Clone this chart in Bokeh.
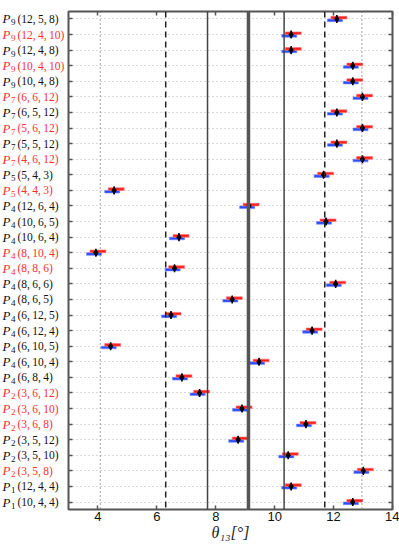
from bokeh.plotting import figure
from bokeh.layouts import row
from bokeh.models import (Range1d, LinearAxis, FixedTicker, Span, ColumnDataSource,
                          CustomLabelingPolicy)
from bokeh.transform import dodge
from bokeh.core.properties import value, field
from bokeh.embed import file_html
from bokeh.resources import INLINE

# ---- data (top row first) ----
model_sub = ["9", "9", "9", "9", "9", "7", "7", "7", "7", "7", "5", "5",
             "4", "4", "4", "4", "4", "4", "4", "4", "4", "4", "4", "4",
             "2", "2", "2", "2", "2", "2", "1", "1"]
model_args = ["12, 5, 8", "12, 4, 10", "12, 4, 8", "10, 4, 10", "10, 4, 8",
              "6, 6, 12", "6, 5, 12", "5, 6, 12", "5, 5, 12", "4, 6, 12",
              "5, 4, 3", "4, 4, 3", "12, 6, 4", "10, 6, 5", "10, 6, 4",
              "8, 10, 4", "8, 8, 6", "8, 6, 6", "8, 6, 5", "6, 12, 5",
              "6, 12, 4", "6, 10, 5", "6, 10, 4", "6, 8, 4", "3, 6, 12",
              "3, 6, 10", "3, 6, 8", "3, 5, 12", "3, 5, 10", "3, 5, 8",
              "12, 4, 4", "10, 4, 4"]
highlight = [0, 1, 0, 1, 0, 1, 0, 1, 0, 1, 0, 1, 0, 0, 0, 1,
             1, 0, 0, 0, 0, 0, 0, 0, 1, 1, 1, 0, 0, 1, 0, 0]
theta = [12.11, 10.56, 10.56, 12.65, 12.65, 12.98, 12.11, 12.98, 12.11, 12.98,
         11.66, 4.55, 9.13, 11.74, 6.75, 3.93, 6.60, 12.07, 8.56, 6.48,
         11.27, 4.43, 9.47, 6.85, 7.45, 8.89, 11.06, 8.76, 10.46, 13.01,
         10.56, 12.65]
red_lo = [11.91, 10.36, 10.36, 12.45, 12.45, 12.78, 11.91, 12.78, 11.91, 12.78,
          11.46, 4.35, 8.93, 11.54, 6.55, 3.73, 6.40, 11.87, 8.36, 6.28,
          11.07, 4.23, 9.27, 6.65, 7.25, 8.69, 10.86, 8.56, 10.26, 12.81,
          10.36, 12.45]
red_hi = [12.45, 10.90, 10.90, 12.99, 12.99, 13.32, 12.45, 13.32, 12.45, 13.32,
          12.00, 4.89, 9.47, 12.08, 7.09, 4.27, 6.94, 12.41, 8.90, 6.82,
          11.61, 4.77, 9.81, 7.19, 7.79, 9.23, 11.40, 9.10, 10.80, 13.35,
          10.90, 12.99]
blue_lo = [11.79, 10.24, 10.24, 12.33, 12.33, 12.66, 11.79, 12.66, 11.79, 12.66,
           11.34, 4.23, 8.81, 11.42, 6.43, 3.61, 6.28, 11.75, 8.24, 6.16,
           10.95, 4.11, 9.15, 6.53, 7.13, 8.57, 10.74, 8.44, 10.14, 12.69,
           10.24, 12.33]
blue_hi = [12.30, 10.75, 10.75, 12.84, 12.84, 13.17, 12.30, 13.17, 12.30, 13.17,
           11.85, 4.74, 9.32, 11.93, 6.94, 4.12, 6.79, 12.26, 8.75, 6.67,
           11.46, 4.62, 9.66, 7.04, 7.64, 9.08, 11.25, 8.95, 10.65, 13.20,
           10.75, 12.84]

ref_lines = [4.08, 6.30, 7.72, 9.11, 10.32, 11.70, 12.96]
ref_kind = ["dotted", "dashed", "solid", "thick", "solid", "dashed", "dotted"]
x_ticks = [4, 6, 8, 10, 12, 14]
x_min, x_max = 3, 14

n = len(theta)
ypos = [n - 1 - i for i in range(n)]
colors = ["#ff2f2f" if h else "#111111" for h in highlight]

src = ColumnDataSource(dict(
    y=ypos, theta=theta, red_lo=red_lo, red_hi=red_hi, blue_lo=blue_lo, blue_hi=blue_hi,
    P=["P"] * n, sub=model_sub,
    args=["(" + a.replace(", ", ",\u2009") + ")" for a in model_args],
    color=colors,
))

H = 555
TOP, BOTTOM = 11, 46
LABEL_W = 66
yr = Range1d(-0.48, n - 1 + 0.48)

# ---- main panel ----
p = figure(width=399 - LABEL_W, height=H, x_range=Range1d(x_min, x_max), y_range=yr,
           output_backend="svg", toolbar_location=None,
           min_border_left=2, min_border_right=7, min_border_top=TOP, min_border_bottom=BOTTOM)
p.background_fill_color = "white"
p.border_fill_color = "white"
p.outline_line_color = "#555555"
p.outline_line_width = 2

no_labels = CustomLabelingPolicy(code="""
try { for (const i of Array.from(indices)) { indices.unset(i) } } catch (e) {}
return indices
""")

p.xaxis.ticker = FixedTicker(ticks=x_ticks)
p.yaxis.ticker = FixedTicker(ticks=ypos)
for ax in (p.xaxis[0], p.yaxis[0]):
    ax.axis_line_color = None
    ax.major_tick_in = 4
    ax.major_tick_out = 0
    ax.minor_tick_line_color = None
    ax.major_tick_line_color = "#555555"
    ax.major_tick_line_width = 1.5
p.yaxis.major_label_text_font_size = "0px"
p.yaxis.major_label_standoff = 0
p.yaxis.major_label_policy = no_labels
p.xaxis.major_label_text_font = "Liberation Sans"
p.xaxis.major_label_text_font_size = "13px"
p.xaxis.major_label_text_color = "#111111"
p.xaxis.major_label_standoff = 2
p.xaxis.axis_label = "θ₁₃[°]"
p.xaxis.axis_label_text_font = "Liberation Serif"
p.xaxis.axis_label_text_font_style = "italic"
p.xaxis.axis_label_text_font_size = "16px"
p.xaxis.axis_label_text_color = "#222222"
p.xaxis.axis_label_standoff = 0

top = LinearAxis(ticker=FixedTicker(ticks=x_ticks), axis_line_color=None,
                 major_tick_in=4, major_tick_out=0, minor_tick_line_color=None,
                 major_tick_line_color="#555555", major_tick_line_width=1.5,
                 major_label_text_font_size="0px", major_label_standoff=0,
                 major_label_policy=no_labels)
right = LinearAxis(ticker=FixedTicker(ticks=ypos), axis_line_color=None,
                   major_tick_in=4, major_tick_out=0, minor_tick_line_color=None,
                   major_tick_line_color="#555555", major_tick_line_width=1.5,
                   major_label_text_font_size="0px", major_label_standoff=0,
                   major_label_policy=no_labels)
p.add_layout(top, "above")
p.add_layout(right, "right")

p.xgrid.visible = False
p.ygrid.ticker = FixedTicker(ticks=ypos)
p.ygrid.grid_line_color = "#b5b5b5"
p.ygrid.grid_line_dash = "1 3"
p.ygrid.grid_line_width = 1

styles = {
    "dotted": dict(line_color="#666666", line_dash="1 3", line_width=1.2),
    "dashed": dict(line_color="#222222", line_dash="6 4", line_width=1.5),
    "solid": dict(line_color="#444444", line_width=1.5),
    "thick": dict(line_color="#555555", line_width=3.5),
}
for loc, kind in zip(ref_lines, ref_kind):
    p.add_layout(Span(location=loc, dimension="height", **styles[kind]))

p.hbar(y=dodge("y", -0.085), left="blue_lo", right="blue_hi", height=0.17,
       fill_color="#2b4cff", line_color="#7088ff", line_width=0.6, source=src)
p.hbar(y=dodge("y", 0.085), left="red_lo", right="red_hi", height=0.17,
       fill_color="#ff1f1f", line_color="#ff7070", line_width=0.6, source=src)
p.segment(x0="theta", x1="theta", y0=dodge("y", -0.26), y1=dodge("y", 0.26),
          line_color="black", line_width=1.5, source=src)
p.scatter("theta", "y", marker="diamond", size=6.5, color="black", source=src)

# ---- label panel (row names) ----
lp = figure(width=LABEL_W, height=H, x_range=Range1d(0, LABEL_W), y_range=yr,
            output_backend="svg", toolbar_location=None,
            x_axis_type=None, y_axis_type=None,
            min_border_left=0, min_border_right=0, min_border_top=TOP, min_border_bottom=BOTTOM)
lp.outline_line_color = None
lp.background_fill_color = "white"
lp.border_fill_color = "white"
lab_font = value("Liberation Serif")
lp.text(x=0, y="y", text="P", source=src, x_offset=2, text_font=lab_font,
        text_font_style="italic", text_font_size="13px", text_color=field("color"),
        text_baseline="middle", text_align="left")
lp.text(x=0, y="y", text="sub", source=src, x_offset=10.5, y_offset=3.5, text_font=lab_font,
        text_font_size="9px", text_color=field("color"),
        text_baseline="middle", text_align="left")
lp.text(x=0, y="y", text="args", source=src, x_offset=17, text_font=lab_font,
        text_font_size="11.5px", text_color=field("color"),
        text_baseline="middle", text_align="left")

layout = row(lp, p, spacing=0)
open("out.html", "w").write(file_html(layout, INLINE))
